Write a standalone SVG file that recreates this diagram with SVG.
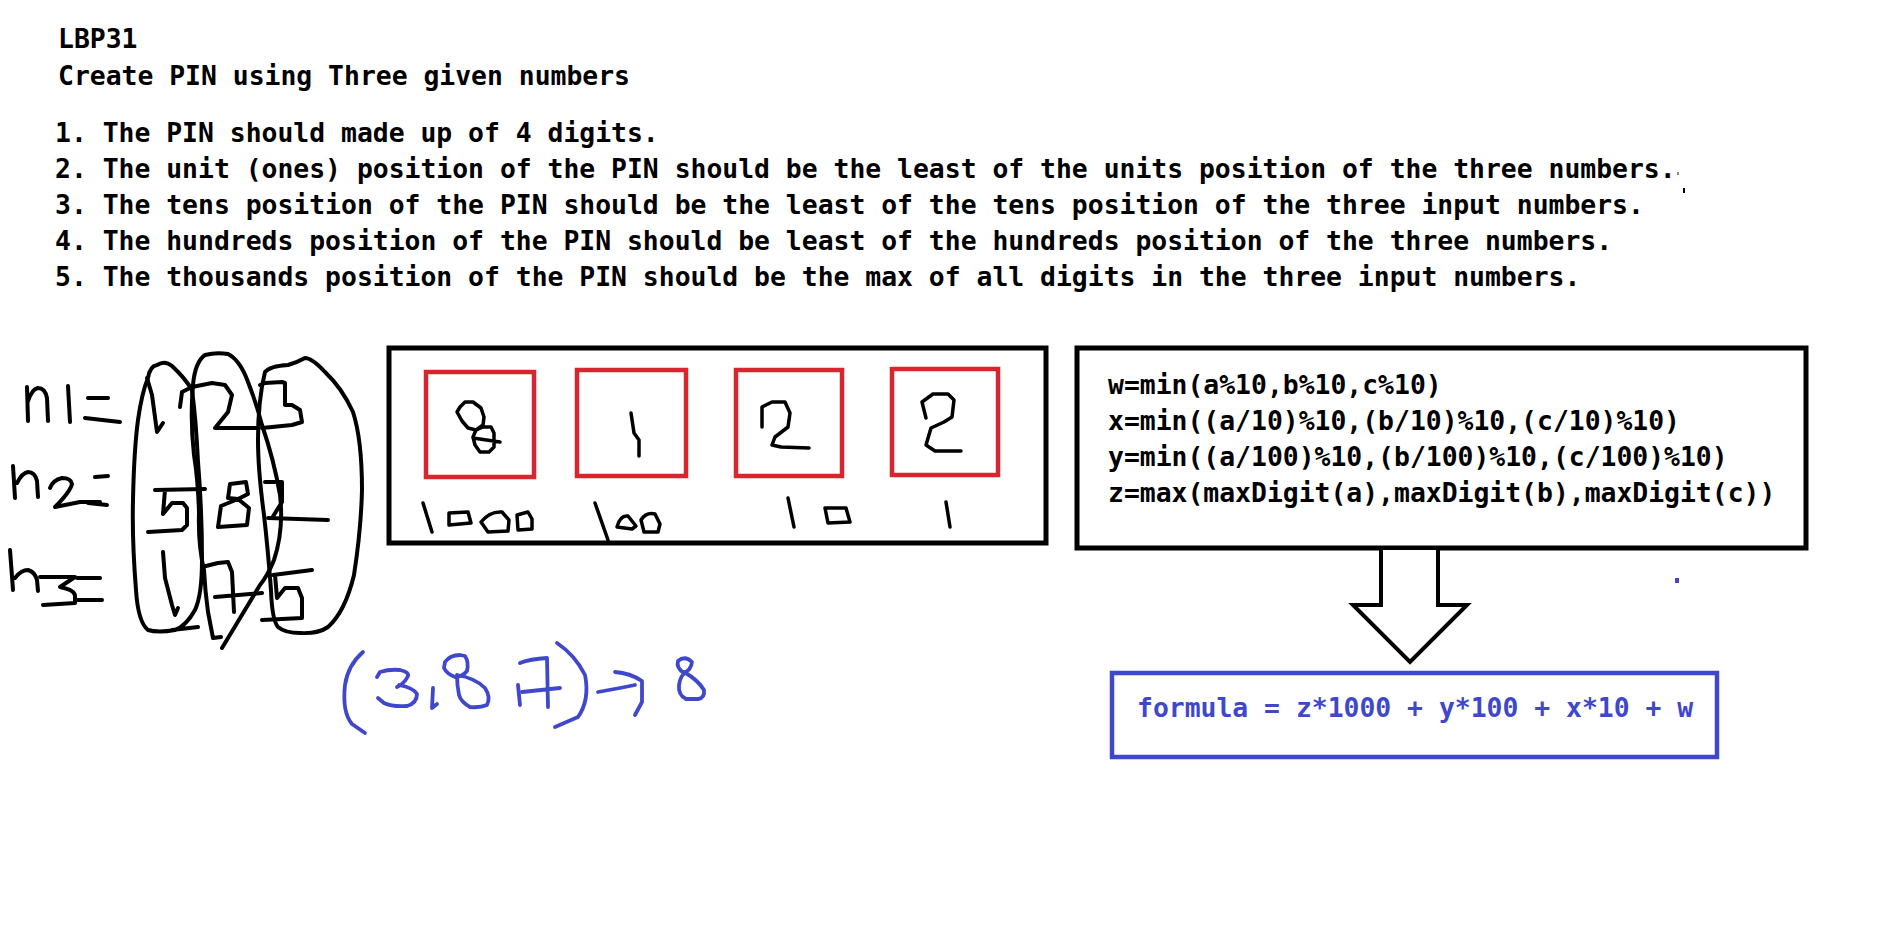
<svg xmlns="http://www.w3.org/2000/svg" width="1891" height="928" viewBox="0 0 1891 928">
<style>
  .t { font-family: "DejaVu Sans Mono", "Liberation Mono", monospace; font-weight: bold; font-size: 26.4px; fill: #000; }
  .blue { fill: #3f48cc; }
  .frame { fill: none; stroke: #000; stroke-width: 5; }
  .red { fill: none; stroke: #d9262e; stroke-width: 4.5; }
  .ink { fill: none; stroke: #000; stroke-width: 4; stroke-linecap: round; stroke-linejoin: round; }
  .bink { fill: none; stroke: #3f48cc; stroke-width: 3.8; stroke-linecap: round; stroke-linejoin: round; }
</style>
<rect width="1891" height="928" fill="#fff"/>

<g id="header">
  <text class="t" x="58" y="48">LBP31</text>
  <text class="t" x="58" y="85">Create PIN using Three given numbers</text>
  <text class="t" x="55" y="142">1. The PIN should made up of 4 digits.</text>
  <text class="t" x="55" y="178">2. The unit (ones) position of the PIN should be the least of the units position of the three numbers.</text>
  <text class="t" x="55" y="214">3. The tens position of the PIN should be the least of the tens position of the three input numbers.</text>
  <text class="t" x="55" y="250">4. The hundreds position of the PIN should be least of the hundreds position of the three numbers.</text>
  <text class="t" x="55" y="286">5. The thousands position of the PIN should be the max of all digits in the three input numbers.</text>
  <rect x="1677" y="172" width="2" height="3" fill="#888"/>
  <rect x="1683" y="188" width="2" height="5" fill="#000"/>
</g>

<g id="inputs-sketch" class="ink">
  <!-- n1= -->
  <path d="M27,387 L28,421 M28,401 Q32,389 38,388 Q45,388 47,398 L48,421"/>
  <path d="M68,386 L70,422"/>
  <path d="M88,398 L108,398 M85,418 L120,422"/>
  <!-- n2= -->
  <path d="M13,466 L15,498 M17,483 Q22,473 28,472 Q35,472 37,481 L38,497"/>
  <path d="M50,488 Q53,480 62,478 Q71,478 72,484 Q70,492 55,507 L80,502 L100,502"/>
  <path d="M95,477 L108,476 M88,503 L107,505"/>
  <!-- n3= -->
  <path d="M10,550 L13,590 M15,578 Q21,570 28,570 Q35,572 37,580 L38,591"/>
  <path d="M40,577 L75,577 L60,587 Q75,590 75,596 L75,603 L43,605"/>
  <path d="M77,578 L100,578 M75,600 L102,600"/>
  <!-- digits -->
  <path d="M147,378 L152,395 L157,432 L163,423"/>
  <path d="M180,407 L182,392 L192,387 L212,383 L225,385 L232,395 L228,412 L215,428 L258,428"/>
  <path d="M260,385 L265,383 L282,382 L285,383 L285,405 L292,405 L300,410 L302,422 L292,425 L262,428"/>
  <path d="M155,490 L205,489 M165,490 L163,514 L172,503 L183,503 L187,508 L187,525 L182,530 L148,532"/>
  <path d="M228,498 L230,484 L246,482 L248,494 L238,499 L228,498 M238,499 L221,506 L218,527 L247,525 L249,508 L238,499"/>
  <path d="M265,482 L282,482 L282,502 L272,518 M268,518 L328,520"/>
  <path d="M163,552 L165,578 L172,605 L175,615 L178,608"/>
  <path d="M202,567 L218,563 L228,562 L232,572 L234,612 M215,597 L262,593"/>
  <path d="M273,575 L312,570 M275,575 L277,598 L285,588 L298,588 L302,598 L302,618 L262,620"/>
  <!-- column loops -->
  <path d="M148,378 Q150,366 157,365 Q165,360 172,366 Q185,378 192,390 Q196,420 198,462 Q202,510 202,560 Q202,595 195,610 Q186,626 175,630 Q158,633 148,630 Q138,622 136,590 Q132,540 133,500 Q134,450 138,420 Q142,392 148,378 M172,630 L198,627"/>
  <path d="M213,638 L208,612 Q205,590 204,570 Q198,545 199,512 Q198,480 194,455 Q190,420 193,385 Q195,362 205,355 Q216,352 228,354 Q240,360 248,382 Q256,402 262,425 Q274,460 280,495 Q284,530 274,560 Q268,575 260,585 L222,648 M213,638 L221,637"/>
  <path d="M265,372 Q270,366 288,365 Q298,362 305,358 Q312,358 325,372 Q342,388 353,412 Q362,440 362,490 Q361,530 354,575 Q345,612 328,627 Q318,634 300,633 Q285,633 278,627 Q272,620 271,590 Q268,550 264,515 Q258,470 258,440 Q258,400 265,372"/>
</g>

<g id="max-sketch" class="bink">
  <path d="M363,652 Q348,665 345,685 Q342,712 352,724 L365,733"/>
  <path d="M377,677 L380,672 Q390,669 400,670 Q409,672 408,676 Q404,684 397,687 M399,685 Q414,688 417,694 Q417,703 407,706 Q392,707 384,703 L378,698"/>
  <path d="M433,688 L432,708 L437,704"/>
  <path d="M445,662 Q450,655 460,655 L465,656 Q469,662 467,671 Q462,677 455,677 Q447,674 444,668 Z"/>
  <path d="M457,675 Q475,678 485,688 Q491,697 487,705 Q480,708 470,707 Q461,702 459,695 Q457,685 457,675"/>
  <path d="M518,685 L520,705"/>
  <path d="M520,663 Q530,659 547,658 L548,707 M522,692 L560,688"/>
  <path d="M557,643 Q575,655 585,675 Q590,700 578,717 L555,727"/>
  <path d="M598,692 L620,688 L635,685 M615,672 Q630,673 642,681 L642,702 L635,715"/>
  <path d="M678,661 Q685,655 692,662 Q691,670 684,673 Q676,668 678,661 Z"/>
  <path d="M684,672 Q698,680 704,690 Q705,698 698,699 L686,699 Q678,695 679,685 Q680,676 686,672"/>
</g>

<g id="pin-box">
  <rect class="frame" x="389" y="348" width="657" height="195"/>
  <rect class="red" x="426" y="372" width="108" height="105"/>
  <rect class="red" x="577" y="370" width="109" height="106"/>
  <rect class="red" x="736" y="370" width="106" height="106"/>
  <rect class="red" x="892" y="369" width="106" height="106"/>
  <g class="ink" style="stroke-width:3.5">
    <path d="M460,407 L465,402 L473,402 L481,408 L484,417 L483,425 L476,430 L468,428 L462,421 L457,412 Z"/>
    <path d="M476,430 L483,427 L491,427 L494,433 L494,447 L489,452 L480,452 L475,445 L473,437 L476,430 M473,438 L500,442"/>
    <path d="M631,413 L634,433 L639,440 L639,456"/>
    <path d="M762,427 L762,407 L772,402 L785,402 L790,413 L788,427 L775,437 L772,445 L781,447 L809,448"/>
    <path d="M926,418 L922,402 L933,394 L948,394 L954,400 L952,417 L944,422 L931,428 L926,445 L935,451 L961,451"/>
    <path d="M423,503 L432,532"/>
    <path d="M449,513 L468,512 L471,523 L449,525 Z"/>
    <path d="M481,522 Q490,511 502,512 L509,520 L508,531 L488,532 Z"/>
    <path d="M517,515 L528,512 L532,519 L532,529 L518,530 Z"/>
    <path d="M595,503 L608,540"/>
    <path d="M617,527 Q620,515 628,516 L636,526 L632,529 Z"/>
    <path d="M641,520 Q646,512 655,514 L660,524 L658,532 L644,532 Z"/>
    <path d="M788,498 L794,527"/>
    <path d="M825,508 L846,508 L850,522 L828,523 Z"/>
    <path d="M946,502 L950,527"/>
  </g>
</g>

<g id="code-box">
  <rect class="frame" x="1077" y="348" width="729" height="200"/>
  <text class="t" x="1108" y="394">w=min(a%10,b%10,c%10)</text>
  <text class="t" x="1108" y="430">x=min((a/10)%10,(b/10)%10,(c/10)%10)</text>
  <text class="t" x="1108" y="466">y=min((a/100)%10,(b/100)%10,(c/100)%10)</text>
  <text class="t" x="1108" y="502">z=max(maxDigit(a),maxDigit(b),maxDigit(c))</text>
</g>

<g id="formula-box">
  <rect x="1112" y="673" width="605" height="84" fill="none" stroke="#3f48cc" stroke-width="4.5"/>
  <text class="t blue" x="1137" y="717">formula = z*1000 + y*100 + x*10 + w</text>
</g>

<g id="connectors">
  <polygon points="1381,548 1381,605 1353,605 1410,662 1467,605 1438,605 1438,548" fill="#fff" stroke="#000" stroke-width="4" stroke-linejoin="miter"/>
</g>

<rect x="1675" y="578" width="4" height="5" fill="#3f48cc"/>
</svg>
